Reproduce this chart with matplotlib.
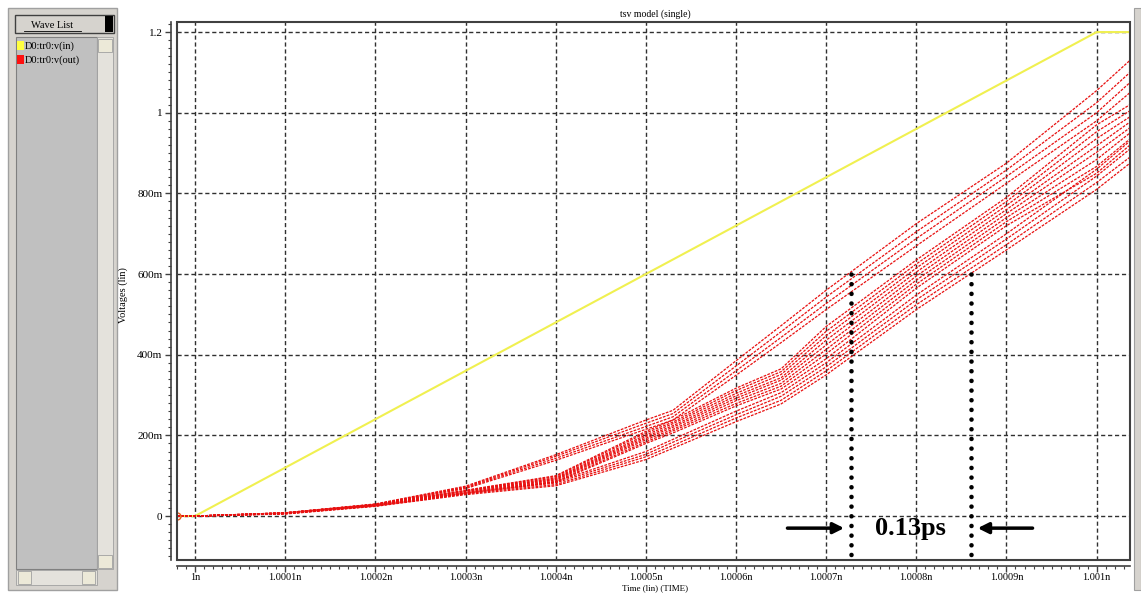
import matplotlib
matplotlib.use("Agg")
import matplotlib.pyplot as plt
from matplotlib.patches import Rectangle
from matplotlib.ticker import MultipleLocator, FixedLocator

plt.rcParams['font.family'] = ['Liberation Serif', 'DejaVu Serif']

# time axis in ps after 1n
t_in = [-0.02, 0.0, 1.0, 1.037]
v_in = [0.0, 0.0, 1.2, 1.2]

t_out = [-0.02, 0.0, 0.1, 0.2, 0.3, 0.4, 0.5, 0.53, 0.6, 0.65, 0.7, 0.8, 0.9, 1.0, 1.037]

# upper group (fast corners)
u1 = [0, 0, 0.008, 0.030, 0.074, 0.152, 0.238, 0.262, 0.385, 0.472, 0.560, 0.725, 0.875, 1.055, 1.13]
u2 = [0, 0, 0.008, 0.029, 0.072, 0.148, 0.230, 0.254, 0.372, 0.457, 0.543, 0.705, 0.858, 1.025, 1.10]
u3 = [0, 0, 0.008, 0.029, 0.070, 0.143, 0.222, 0.246, 0.360, 0.443, 0.527, 0.688, 0.842, 1.000, 1.075]
u4 = [0, 0, 0.007, 0.028, 0.068, 0.138, 0.215, 0.238, 0.349, 0.430, 0.512, 0.670, 0.825, 0.980, 1.05]
# main bundle
m1 = [0, 0, 0.008, 0.029, 0.064, 0.100, 0.210, 0.238, 0.317, 0.365, 0.470, 0.635, 0.790, 0.970, 1.02]
m2 = [0, 0, 0.008, 0.028, 0.063, 0.098, 0.206, 0.233, 0.311, 0.358, 0.458, 0.625, 0.780, 0.953, 1.005]
m3 = [0, 0, 0.007, 0.028, 0.062, 0.095, 0.201, 0.229, 0.304, 0.351, 0.447, 0.615, 0.770, 0.936, 0.99]
m4 = [0, 0, 0.007, 0.027, 0.061, 0.093, 0.197, 0.224, 0.298, 0.343, 0.436, 0.605, 0.760, 0.918, 0.977]
m5 = [0, 0, 0.007, 0.027, 0.059, 0.091, 0.193, 0.220, 0.292, 0.337, 0.424, 0.595, 0.750, 0.902, 0.963]
m6 = [0, 0, 0.007, 0.026, 0.058, 0.089, 0.189, 0.215, 0.286, 0.329, 0.413, 0.585, 0.740, 0.884, 0.95]
m7 = [0, 0, 0.006, 0.026, 0.057, 0.086, 0.184, 0.211, 0.279, 0.322, 0.402, 0.575, 0.730, 0.867, 0.935]
m8 = [0, 0, 0.006, 0.025, 0.056, 0.084, 0.180, 0.206, 0.273, 0.315, 0.390, 0.565, 0.720, 0.850, 0.92]
# lower group (slow corners)
l1 = [0, 0, 0.006, 0.026, 0.057, 0.085, 0.160, 0.190, 0.260, 0.306, 0.380, 0.548, 0.700, 0.860, 0.93]
l2 = [0, 0, 0.006, 0.025, 0.056, 0.082, 0.153, 0.183, 0.251, 0.297, 0.370, 0.536, 0.687, 0.843, 0.91]
l3 = [0, 0, 0.006, 0.025, 0.055, 0.078, 0.147, 0.175, 0.243, 0.287, 0.360, 0.524, 0.673, 0.827, 0.89]
l4 = [0, 0, 0.005, 0.024, 0.053, 0.075, 0.140, 0.168, 0.234, 0.278, 0.350, 0.512, 0.660, 0.810, 0.875]
out_curves = [u1, u2, u3, u4, m1, m2, m3, m4, m5, m6, m7, m8, l1, l2, l3, l4]

x_ticks = [0, 0.1, 0.2, 0.3, 0.4, 0.5, 0.6, 0.7, 0.8, 0.9, 1.0]
x_labels = ['1n', '1.0001n', '1.0002n', '1.0003n', '1.0004n', '1.0005n',
            '1.0006n', '1.0007n', '1.0008n', '1.0009n', '1.001n']
y_ticks = [0, 0.2, 0.4, 0.6, 0.8, 1.0, 1.2]
y_labels = ['0', '200m', '400m', '600m', '800m', '1', '1.2']

# delay markers
delay_x = [0.727, 0.861]
delay_text = '0.13ps'

fig = plt.figure(figsize=(11.41, 5.93), dpi=100)
W, H = 1141, 593

def px(x0, y0, w, h, **kw):
    fig.patches.append(Rectangle((x0 / W, 1 - (y0 + h) / H), w / W, h / H,
                                 transform=fig.transFigure, **kw))

# left "Wave List" panel
px(8, 8, 109, 582, facecolor='#d6d3ce', edgecolor='#a0a0a0', lw=1)
px(15, 15, 99, 18, facecolor='#d6d3ce', edgecolor='#404040', lw=1)
px(105, 16, 8, 16, facecolor='black', edgecolor='none')
fig.text(52 / W, 1 - 25 / H, 'Wave List', fontsize=7.5, ha='center', va='center')
fig.lines.append(plt.Line2D([24 / W, 81 / W], [1 - 31 / H, 1 - 31 / H],
                            transform=fig.transFigure, color='black', lw=0.6))
px(16, 37, 81, 532, facecolor='#c0c0c0', edgecolor='#808080', lw=0.8)
px(97, 37, 16, 532, facecolor='#e4e2dc', edgecolor='#a0a0a0', lw=0.6)
px(98, 39, 14, 13, facecolor='#ece9d8', edgecolor='#a0a0a0', lw=0.6)
px(98, 555, 14, 13, facecolor='#ece9d8', edgecolor='#a0a0a0', lw=0.6)
px(16, 570, 81, 15, facecolor='#e4e2dc', edgecolor='#a0a0a0', lw=0.6)
px(18, 571, 13, 13, facecolor='#ece9d8', edgecolor='#a0a0a0', lw=0.6)
px(82, 571, 13, 13, facecolor='#ece9d8', edgecolor='#a0a0a0', lw=0.6)
px(17, 41, 7, 9, facecolor='#ffff40', edgecolor='none')
px(17, 55, 7, 9, facecolor='#ff1010', edgecolor='none')
fig.text(25 / W, 1 - 46 / H, 'D0:tr0:v(in)', fontsize=7.5, va='center')
fig.text(25 / W, 1 - 60 / H, 'D0:tr0:v(out)', fontsize=7.5, va='center')
# right edge strip
px(1134, 8, 7, 582, facecolor='#d6d3ce', edgecolor='#a0a0a0', lw=0.8)

ax = fig.add_axes([177 / W, 1 - 560 / H, (1130 - 177) / W, (560 - 22) / H])
ax.set_xlim(-0.02, 1.037)
ax.set_ylim(-0.109, 1.225)

ax.plot(t_in, v_in, color='#f0f050', lw=1.5, zorder=3)
for c in out_curves:
    ax.plot(t_out, c, color='#e81010', lw=0.9, ls=(0, (2.2, 1.0)), zorder=4)
ax.plot([t_out[0]], [0], marker='o', ms=5, mfc='none', mec='#e86020', mew=1, zorder=5)

# grid
ax.xaxis.set_major_locator(FixedLocator(x_ticks))
ax.yaxis.set_major_locator(FixedLocator(y_ticks))
ax.xaxis.set_minor_locator(MultipleLocator(0.01))
ax.yaxis.set_minor_locator(MultipleLocator(0.02))
ax.set_xticklabels(x_labels)
ax.set_yticklabels(y_labels)
ax.grid(True, which='major', color='#303030', lw=1, ls=(0, (3, 2)), zorder=1)

for s in ['top', 'right']:
    ax.spines[s].set_visible(False)
for s in ['left', 'bottom']:
    ax.spines[s].set_position(('outward', 4))
    ax.spines[s].set_color('#404040')
    ax.spines[s].set_linewidth(1.2)
ax.add_patch(Rectangle((0, 0), 1, 1, transform=ax.transAxes, fill=False,
                       edgecolor='#404040', lw=1.5, zorder=6, clip_on=False))

ax.tick_params(which='major', length=4.5, width=1, color='#404040', labelsize=8, pad=2)
ax.tick_params(axis='x', which='major', labelsize=7.5, pad=0.5)
ax.tick_params(which='minor', length=2.2, width=0.8, color='#404040')

fig.text(655 / W, 1 - 14 / H, 'tsv model (single)', fontsize=7, ha='center', va='center')
fig.text(655 / W, 1 - 588 / H, 'Time (lin) (TIME)', fontsize=6.5, ha='center', va='center')
fig.text(123 / W, 1 - 295 / H, 'Voltages (lin)', fontsize=7.5, ha='center',
         va='center', rotation=90)

# delay annotation
for dx in delay_x:
    ax.plot([dx, dx], [0.6, -0.1], color='black', lw=3.3,
            ls=(0, (0.01, 2.1)), dash_capstyle='round', zorder=7)
ax.annotate('', xy=(delay_x[0] - 0.004, -0.03), xytext=(0.654, -0.03),
            arrowprops=dict(arrowstyle='-|>', color='black', lw=2.5,
                            mutation_scale=16), zorder=7)
ax.annotate('', xy=(delay_x[1] + 0.004, -0.03), xytext=(0.932, -0.03),
            arrowprops=dict(arrowstyle='-|>', color='black', lw=2.5,
                            mutation_scale=16), zorder=7)
ax.text((delay_x[0] + delay_x[1]) / 2, -0.03, delay_text, fontsize=19,
        fontweight='bold', ha='center', va='center', zorder=7)

fig.savefig('out.png', dpi=100)
